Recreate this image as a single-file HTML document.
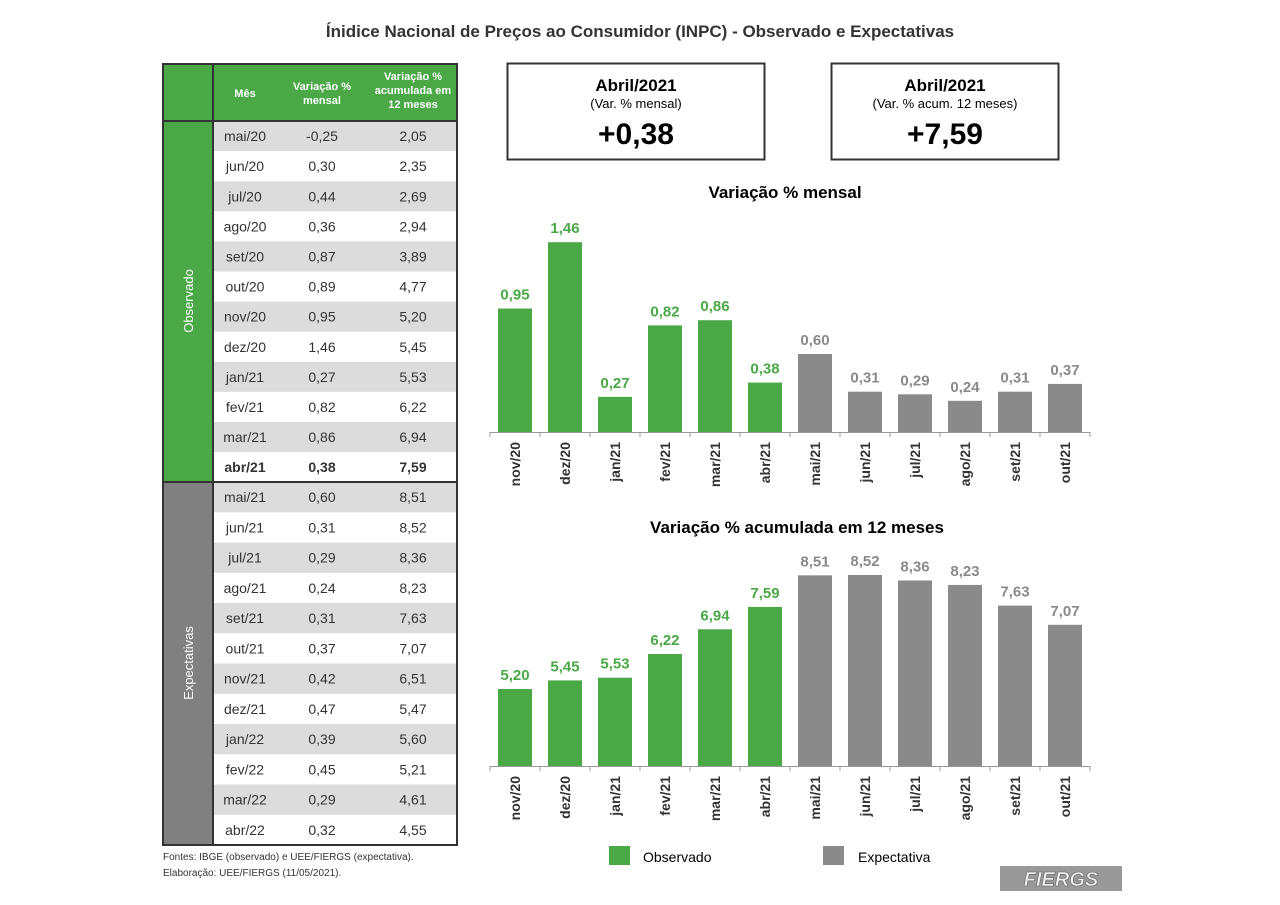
<!DOCTYPE html>
<html><head><meta charset="utf-8"><style>
body{margin:0;background:#fff;width:1280px;height:905px;overflow:hidden;font-family:"Liberation Sans",sans-serif;color:#333}
svg{position:absolute;left:0;top:0}
</style></head><body>
<svg id="s" width="1280" height="905" viewBox="0 0 1280 905" font-family="Liberation Sans, sans-serif">
<text x="640" y="37" text-anchor="middle" font-size="17" font-weight="bold" fill="#333">Ínidice Nacional de Preços ao Consumidor (INPC) - Observado e Expectativas</text>
<g id="table"></g>
<text x="163" y="860" font-size="10" fill="#333">Fontes: IBGE (observado) e UEE/FIERGS (expectativa).</text>
<text x="163" y="876" font-size="10" fill="#333">Elaboração: UEE/FIERGS (11/05/2021).</text>
<g>
<rect x="507.5" y="63.5" width="257" height="96" fill="#fff" stroke="#333" stroke-width="2"/>
<text x="636" y="91" text-anchor="middle" font-size="17" font-weight="bold">Abril/2021</text>
<text x="636" y="108" text-anchor="middle" font-size="13">(Var. % mensal)</text>
<text x="636" y="144" text-anchor="middle" font-size="30" font-weight="bold">+0,38</text>
</g>
<g>
<rect x="831.5" y="63.5" width="227" height="96" fill="#fff" stroke="#333" stroke-width="2"/>
<text x="945" y="91" text-anchor="middle" font-size="17" font-weight="bold">Abril/2021</text>
<text x="945" y="108" text-anchor="middle" font-size="13">(Var. % acum. 12 meses)</text>
<text x="945" y="144" text-anchor="middle" font-size="30" font-weight="bold">+7,59</text>
</g>
<text x="785" y="198" text-anchor="middle" font-size="17" font-weight="bold">Variação % mensal</text>
<text x="797" y="533" text-anchor="middle" font-size="17" font-weight="bold">Variação % acumulada em 12 meses</text>
<g id="c1"></g>
<g id="c2"></g>
<g>
<rect x="609" y="846" width="21" height="19" fill="#4aa847"/>
<text x="643" y="862" font-size="14">Observado</text>
<rect x="823" y="846" width="21" height="19" fill="#8a8a8a"/>
<text x="858" y="862" font-size="14">Expectativa</text>
</g>
<g>
<rect x="1000" y="866" width="122" height="25" fill="#999"/>
<text x="1061" y="886" text-anchor="middle" font-size="20" font-weight="bold" font-style="italic" fill="#eee" stroke="#666" stroke-width="0.6">FIERGS</text>
</g>
</svg>
<script>
const NS="http://www.w3.org/2000/svg";
const tMonths=["mai/20","jun/20","jul/20","ago/20","set/20","out/20","nov/20","dez/20","jan/21","fev/21","mar/21","abr/21","mai/21","jun/21","jul/21","ago/21","set/21","out/21","nov/21","dez/21","jan/22","fev/22","mar/22","abr/22"];
const tMonthly=["-0,25","0,30","0,44","0,36","0,87","0,89","0,95","1,46","0,27","0,82","0,86","0,38","0,60","0,31","0,29","0,24","0,31","0,37","0,42","0,47","0,39","0,45","0,29","0,32"];
const tAnnual=["2,05","2,35","2,69","2,94","3,89","4,77","5,20","5,45","5,53","6,22","6,94","7,59","8,51","8,52","8,36","8,23","7,63","7,07","6,51","5,47","5,60","5,21","4,61","4,55"];
const cats=["nov/20","dez/20","jan/21","fev/21","mar/21","abr/21","mai/21","jun/21","jul/21","ago/21","set/21","out/21"];
const monthly=[0.95,1.46,0.27,0.82,0.86,0.38,0.60,0.31,0.29,0.24,0.31,0.37];
const annual=[5.20,5.45,5.53,6.22,6.94,7.59,8.51,8.52,8.36,8.23,7.63,7.07];
const observedCount=6;
const G="#4aa847",GR="#8a8a8a";
function el(tag,a,p,txt){const e=document.createElementNS(NS,tag);for(const k in a)e.setAttribute(k,a[k]);if(txt!==undefined)e.textContent=txt;p.appendChild(e);return e;}
// table
const tb=document.getElementById('table');
el('rect',{x:163,y:64,width:294,height:781,fill:'#fff'},tb);
el('rect',{x:163,y:64,width:294,height:57,fill:G},tb);
el('rect',{x:163,y:121,width:50,height:361,fill:G},tb);
el('rect',{x:163,y:482,width:50,height:363,fill:'#808080'},tb);
const hd=[[245,["Mês"]],[322,["Variação %","mensal"]],[413,["Variação %","acumulada em","12 meses"]]];
hd.forEach(([x,ls])=>{const y0=ls.length==1?97:ls.length==2?90:80;ls.forEach((l,i)=>{const t=el('text',{x:x,y:y0+i*14,'text-anchor':'middle','font-size':11,'font-weight':'bold',fill:'#fff'},tb,l);});});
for(let i=0;i<24;i++){
 const y=i<12?121+i*30.1:482+(i-12)*30.25;const h=i<12?30.1:30.25;
 if(i%2==0)el('rect',{x:213,y:y,width:244,height:h,fill:'#dcdcdc'},tb);
 const bold=i==11?'bold':'normal';const ty=y+h/2+5;
 [[245,tMonths[i]],[322,tMonthly[i]],[413,tAnnual[i]]].forEach(([x,v])=>{const t=el('text',{x:x,y:ty,'text-anchor':'middle','font-size':14,'font-weight':bold,fill:'#333'},tb,v);});
}
el('line',{x1:163,y1:121,x2:457,y2:121,stroke:'#333','stroke-width':2},tb);
el('line',{x1:163,y1:482,x2:457,y2:482,stroke:'#333','stroke-width':2},tb);
el('line',{x1:213,y1:64,x2:213,y2:845,stroke:'#333','stroke-width':2},tb);
el('rect',{x:163,y:64,width:294,height:781,fill:'none',stroke:'#333','stroke-width':2},tb);
let t1=el('text',{x:0,y:0,transform:'translate(193,301) rotate(-90)','text-anchor':'middle','font-size':13,fill:'#fff'},tb,'Observado');
let t2=el('text',{x:0,y:0,transform:'translate(193,663) rotate(-90)','text-anchor':'middle','font-size':13,fill:'#fff'},tb,'Expectativas');
// charts
function chart(id,vals,base,ppu,vmin,prefix){
 const g=document.getElementById(id);const x0=490,step=50,bw=34;
 const yS=v=>base-(v-vmin)*ppu;
 el('line',{x1:x0,y1:base+0.5,x2:x0+step*12,y2:base+0.5,stroke:'#999','stroke-width':1},g);
 for(let i=0;i<=12;i++)el('line',{x1:x0+i*step,y1:base,x2:x0+i*step,y2:base+5,stroke:'#999'},g);
 vals.forEach((v,i)=>{
  const c=i<observedCount?G:GR;const x=x0+i*step+(step-bw)/2;const y=yS(v);
  const r=el('rect',{x:x,y:y,width:bw,height:base-y,fill:c},g);
  
  
  const l=el('text',{x:x+bw/2,y:y-9,'text-anchor':'middle','font-size':15,'font-weight':'bold',fill:i<observedCount?'#4aa847':'#8a8a8a'},g,v.toFixed(2).replace('.',','));
  
  
  const cx=x0+i*step+step/2+5;
  const a=el('text',{x:0,y:0,transform:`translate(${cx},${base+10}) rotate(-90)`,'text-anchor':'end','font-size':14,'font-weight':'bold',fill:'#333'},g,cats[i]);
  
  
 });
}
chart('c1',monthly,432,130,0,'monthly');
chart('c2',annual,766,34.34,2.958,'annual');
</script>
</body></html>
